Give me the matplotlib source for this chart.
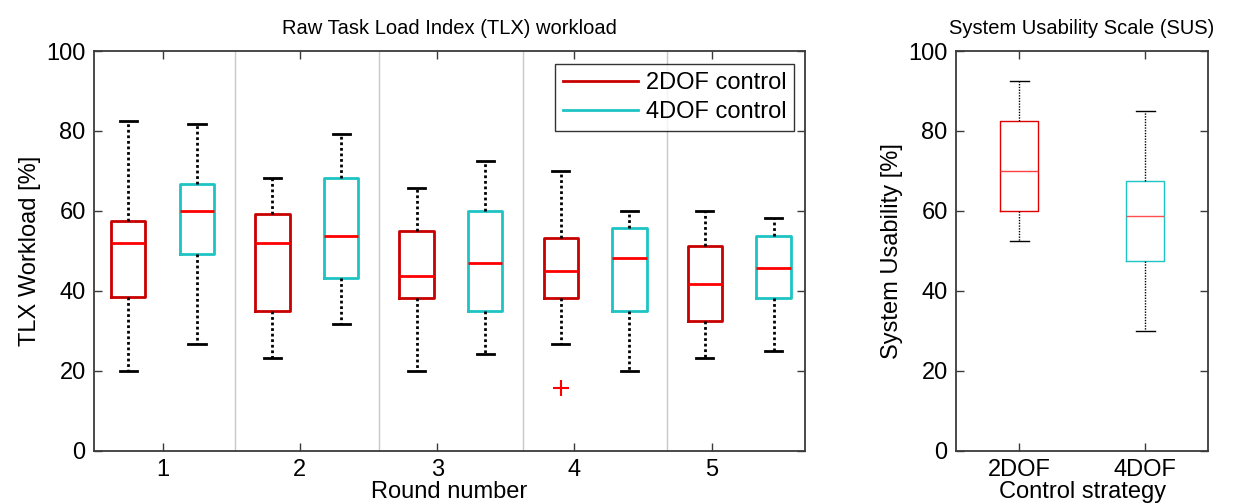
"""
TLX workload and SUS boxplots.
"""

import matplotlib
matplotlib.use("Agg")
import matplotlib.pyplot as plt
from matplotlib.lines import Line2D

plt.rcParams["font.family"] = ["Liberation Sans", "DejaVu Sans"]

# --- data ---
rounds = [1, 2, 3, 4, 5]

# 2DOF control, per round: whisker low, Q1, median, Q3, whisker high
tlx_2dof_low = [20.0, 23.3, 20.0, 26.7, 23.3]
tlx_2dof_q1 = [38.5, 35.0, 38.3, 38.3, 32.5]
tlx_2dof_med = [52.0, 52.0, 43.8, 45.0, 41.7]
tlx_2dof_q3 = [57.5, 59.2, 55.0, 53.3, 51.3]
tlx_2dof_high = [82.5, 68.3, 65.8, 70.0, 60.0]
tlx_2dof_outliers = [[], [], [], [15.8], []]

# 4DOF control, per round
tlx_4dof_low = [26.7, 31.7, 24.2, 20.0, 25.0]
tlx_4dof_q1 = [49.2, 43.3, 35.0, 35.0, 38.3]
tlx_4dof_med = [60.0, 53.8, 47.0, 48.3, 45.8]
tlx_4dof_q3 = [66.7, 68.3, 60.0, 55.8, 53.8]
tlx_4dof_high = [81.7, 79.2, 72.5, 60.0, 58.3]

# SUS
sus_labels = ["2DOF", "4DOF"]
sus_low = [52.5, 30.0]
sus_q1 = [60.0, 47.5]
sus_med = [70.0, 58.8]
sus_q3 = [82.5, 67.5]
sus_high = [92.5, 85.0]

DARK_RED = "#c80000"
CYAN = "#1ec3c3"
RED = "#ff0000"
SPINE = "#3a3a3a"
FS = 17


def make_stats(low, q1, med, q3, high, fliers=None):
    stats = []
    for i in range(len(med)):
        stats.append({
            "whislo": low[i], "q1": q1[i], "med": med[i],
            "q3": q3[i], "whishi": high[i],
            "fliers": fliers[i] if fliers else [],
        })
    return stats


def style_axes(ax):
    for s in ax.spines.values():
        s.set_color(SPINE)
        s.set_linewidth(1.3)
    ax.tick_params(direction="in", length=6, width=1.0, color=SPINE,
                   top=True, right=True, labelsize=FS, pad=6)


def draw_boxes(ax, stats, positions, box_color, med_color, lw, width, capw):
    ax.bxp(
        stats, positions=positions, widths=width, showfliers=True,
        manage_ticks=False, capwidths=capw,
        boxprops=dict(color=box_color, linewidth=lw),
        medianprops=dict(color=med_color, linewidth=lw),
        whiskerprops=dict(color="black", linewidth=lw, linestyle=(0, (1, 1))),
        capprops=dict(color="black", linewidth=lw),
        flierprops=dict(marker="+", markeredgecolor=RED, markersize=11,
                        markeredgewidth=1.5, linestyle="none"),
    )


fig = plt.figure(figsize=(12.58, 5.04), dpi=100)

# --- left: TLX ---
ax1 = fig.add_axes([0.0747, 0.1052, 0.5653, 0.7936])

pos_2dof = [r - 0.25 + 0.05 * (r - 1) for r in rounds]
pos_4dof = [p + 0.5 for p in pos_2dof]

for i in range(len(rounds) - 1):
    ax1.axvline((pos_4dof[i] + pos_2dof[i + 1]) / 2, color="#c8c8c8",
                linewidth=1.0, zorder=0)

draw_boxes(ax1,
           make_stats(tlx_2dof_low, tlx_2dof_q1, tlx_2dof_med, tlx_2dof_q3,
                      tlx_2dof_high, tlx_2dof_outliers),
           pos_2dof, DARK_RED, RED, 2.0, 0.25, 0.125)
draw_boxes(ax1,
           make_stats(tlx_4dof_low, tlx_4dof_q1, tlx_4dof_med, tlx_4dof_q3,
                      tlx_4dof_high),
           pos_4dof, CYAN, RED, 2.0, 0.25, 0.125)

ax1.set_xlim(0.5, 5.68)
ax1.set_ylim(0, 100)
ax1.set_xticks(rounds)
ax1.set_xticklabels([str(r) for r in rounds])
ax1.set_yticks([0, 20, 40, 60, 80, 100])
style_axes(ax1)
ax1.set_ylabel("TLX Workload [%]", fontsize=FS, labelpad=4)
ax1.set_xlabel("Round number", fontsize=FS, labelpad=0)
ax1.set_title("Raw Task Load Index (TLX) workload", fontsize=14.5, pad=12)

handles = [Line2D([], [], color=DARK_RED, linewidth=2),
           Line2D([], [], color=CYAN, linewidth=2)]
leg = ax1.legend(handles, ["2DOF control", "4DOF control"], loc="upper right",
                 bbox_to_anchor=(0.985, 0.968), fontsize=FS, handlelength=3.2,
                 frameon=True, fancybox=False, borderpad=0.35,
                 labelspacing=0.3, handletextpad=0.3, borderaxespad=0)
leg.get_frame().set_edgecolor("black")
leg.get_frame().set_linewidth(1.0)

# --- right: SUS ---
ax2 = fig.add_axes([0.760, 0.1052, 0.2003, 0.7936])

sus_pos = list(range(1, len(sus_labels) + 1))
sus_stats = make_stats(sus_low, sus_q1, sus_med, sus_q3, sus_high)
draw_boxes(ax2, sus_stats[:1], sus_pos[:1], "#e00000", "#ff4040", 1.0, 0.3, 0.15)
draw_boxes(ax2, sus_stats[1:], sus_pos[1:], CYAN, "#ff4f4f", 1.0, 0.3, 0.15)

ax2.set_xlim(0.5, 2.5)
ax2.set_ylim(0, 100)
ax2.set_xticks(sus_pos)
ax2.set_xticklabels(sus_labels)
ax2.set_yticks([0, 20, 40, 60, 80, 100])
style_axes(ax2)
ax2.set_ylabel("System Usability [%]", fontsize=FS, labelpad=4)
ax2.set_xlabel("Control strategy", fontsize=FS, labelpad=0)
ax2.set_title("System Usability Scale (SUS)", fontsize=14.5, pad=12)

fig.savefig("out.png", dpi=100)
